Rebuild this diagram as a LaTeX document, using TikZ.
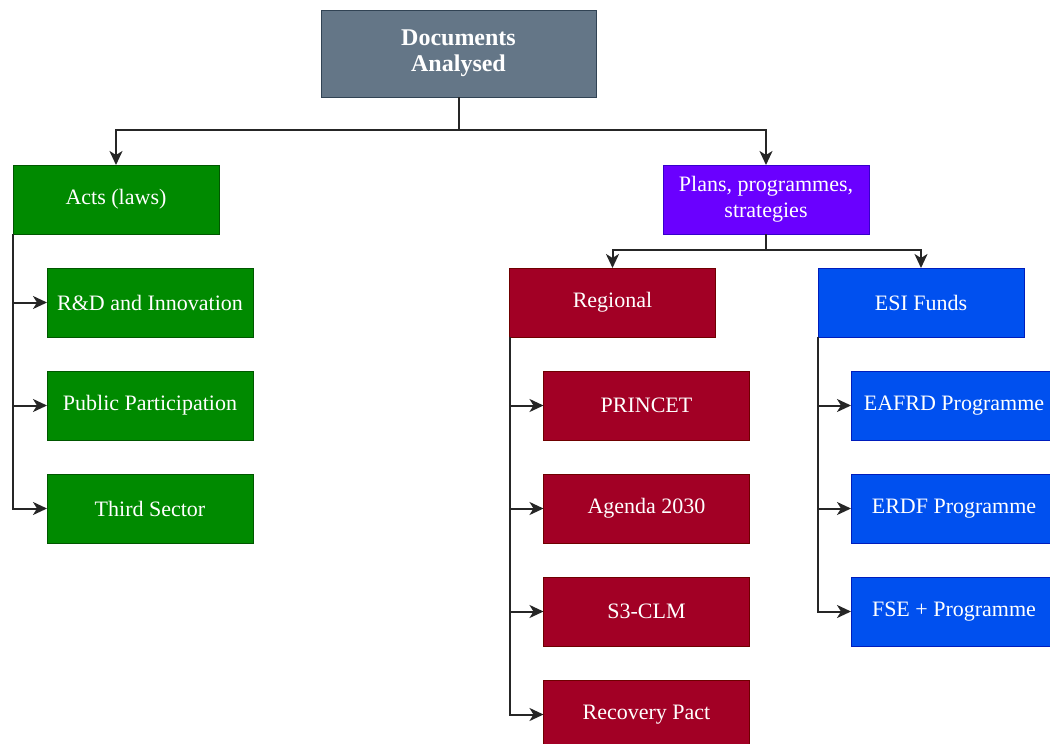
\documentclass[tikz,border=0pt]{standalone}
\usepackage{fontspec}
\setmainfont{Liberation Serif}
\usetikzlibrary{positioning, arrows.meta}

\definecolor{rootfill}{HTML}{647687}
\definecolor{rootline}{HTML}{314354}
\definecolor{actfill}{HTML}{008A00}
\definecolor{actline}{HTML}{005700}
\definecolor{planfill}{HTML}{6A00FF}
\definecolor{planline}{HTML}{3700CC}
\definecolor{regfill}{HTML}{A20025}
\definecolor{regline}{HTML}{6F0000}
\definecolor{esifill}{HTML}{0050EF}
\definecolor{esiline}{HTML}{001DBC}

\begin{document}
\begin{tikzpicture}[x=1pt, y=1pt,
    box/.style={draw, line width=0.6pt, minimum width=206pt, minimum height=69pt, align=center,
    text=white, inner sep=2pt, outer sep=0pt, font=\fontsize{22}{26}\selectfont},
    link/.style={-{Stealth[length=14pt, width=13pt, inset=4pt]}, line width=2pt, color=black!85}]

  \useasboundingbox (0,0) rectangle (1050,-744);

  \node[box, fill=rootfill, draw=rootline, minimum width=275pt, minimum height=87pt,
    font=\fontsize{24}{26}\selectfont\bfseries] (root) at (458.5,-53.5)
    {\raisebox{-4pt}{\setlength{\tabcolsep}{0pt}\begin{tabular}{c}Documents\\Analysed\end{tabular}}};

  \node[box, fill=actfill, draw=actline] (acts) at (116,-199.5) {Acts (laws)};
  \node[box, fill=actfill, draw=actline, below right=34pt and 34pt of acts.south west] (rd) {R\&D and Innovation};
  \node[box, fill=actfill, draw=actline, below=34pt of rd] (pp) {Public Participation};
  \node[box, fill=actfill, draw=actline, below=34pt of pp] (ts) {Third Sector};

  \node[box, fill=planfill, draw=planline] (plans) at (766,-199.5) {Plans, programmes,\\strategies};
  \node[box, fill=regfill, draw=regline] (reg) at (612.5,-302.5) {Regional};
  \node[box, fill=esifill, draw=esiline] (esi) at (921,-302.5) {ESI Funds};

  \node[box, fill=regfill, draw=regline, below right=34pt and 34pt of reg.south west] (princet) {PRINCET};
  \node[box, fill=regfill, draw=regline, below=34pt of princet] (agenda) {Agenda 2030};
  \node[box, fill=regfill, draw=regline, below=34pt of agenda] (s3) {S3-CLM};
  \node[box, fill=regfill, draw=regline, below=34pt of s3] (pact) {Recovery Pact};

  \node[box, fill=esifill, draw=esiline, below right=34pt and 33pt of esi.south west] (eafrd) {EAFRD Programme};
  \node[box, fill=esifill, draw=esiline, below=34pt of eafrd] (erdf) {ERDF Programme};
  \node[box, fill=esifill, draw=esiline, below=34pt of erdf] (fse) {FSE + Programme};

  % top level
  \draw[link] (root.south) -- ++(0,-33pt) -| (acts.north);
  \draw[link] (root.south) -- ++(0,-33pt) -| (plans.north);
  \draw[link] (plans.south) -- ++(0,-16pt) -| (reg.north);
  \draw[link] (plans.south) -- ++(0,-16pt) -| (esi.north);

  % side branches
  \foreach \kid in {rd, pp, ts}
    \draw[link] (acts.south west) |- (\kid.west);
  \foreach \kid in {princet, agenda, s3, pact}
    \draw[link] (reg.south west) |- (\kid.west);
  \foreach \kid in {eafrd, erdf, fse}
    \draw[link] (esi.south west) |- (\kid.west);

\end{tikzpicture}
\end{document}
